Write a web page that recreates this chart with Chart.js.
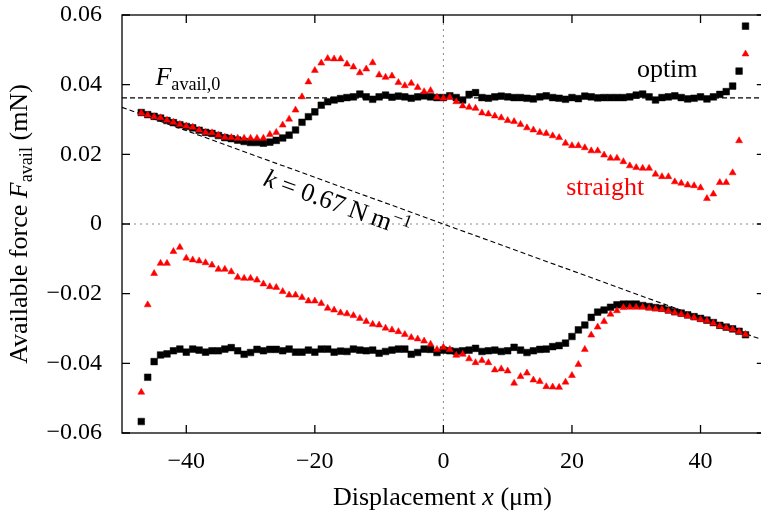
<!DOCTYPE html>
<html>
<head>
<meta charset="utf-8">
<script src="https://cdn.jsdelivr.net/npm/chart.js@4.4.1/dist/chart.umd.min.js"></script>
<style>
  html, body { margin: 0; padding: 0; background: #fff; overflow: hidden; }
  #wrap { width: 761px; height: 514px; overflow: hidden; }
</style>
</head>
<body>
<div id="wrap"><canvas id="forceChart" width="770" height="514"></canvas></div>
<script>
// Displacement positions (µm)
const X_POS = [
  -47, -46, -45, -44, -43, -42, -41, -40, -39, -38, -37, -36, -35, -34, -33, -32,
  -31, -30, -29, -28, -27, -26, -25, -24, -23, -22, -21, -20, -19, -18, -17, -16,
  -15, -14, -13, -12, -11, -10, -9, -8, -7, -6, -5, -4, -3, -2, -1, 0,
  1, 2, 3, 4, 5, 6, 7, 8, 9, 10, 11, 12, 13, 14, 15, 16,
  17, 18, 19, 20, 21, 22, 23, 24, 25, 26, 27, 28, 29, 30, 31, 32,
  33, 34, 35, 36, 37, 38, 39, 40, 41, 42, 43, 44, 45, 46, 47
];

// Available force (mN), optimised geometry, upper / lower branch
const OPTIM_UP = [
  0.0320, 0.0314, 0.0309, 0.0304, 0.0297, 0.0291, 0.0285, 0.0280, 0.0276, 0.0269, 0.0263, 0.0260, 0.0254, 0.0248, 0.0245, 0.0241,
  0.0237, 0.0234, 0.0234, 0.0232, 0.0235, 0.0240, 0.0247, 0.0255, 0.0270, 0.0292, 0.0308, 0.0322, 0.0341, 0.0351, 0.0356, 0.0360,
  0.0363, 0.0365, 0.0373, 0.0365, 0.0358, 0.0365, 0.0370, 0.0364, 0.0367, 0.0365, 0.0361, 0.0365, 0.0368, 0.0365, 0.0363, 0.0363,
  0.0368, 0.0363, 0.0356, 0.0372, 0.0377, 0.0363, 0.0361, 0.0365, 0.0367, 0.0365, 0.0363, 0.0363, 0.0361, 0.0359, 0.0365, 0.0368,
  0.0363, 0.0361, 0.0358, 0.0363, 0.0360, 0.0367, 0.0365, 0.0362, 0.0363, 0.0363, 0.0363, 0.0363, 0.0365, 0.0370, 0.0373, 0.0365,
  0.0356, 0.0363, 0.0365, 0.0368, 0.0363, 0.0359, 0.0361, 0.0365, 0.0359, 0.0365, 0.0372, 0.0380, 0.0396, 0.0439, 0.0568
];
const OPTIM_LOW = [
  -0.0567, -0.0440, -0.0395, -0.0376, -0.0373, -0.0364, -0.0359, -0.0368, -0.0359, -0.0362, -0.0368, -0.0364, -0.0364, -0.0359, -0.0355, -0.0364,
  -0.0374, -0.0369, -0.0360, -0.0364, -0.0360, -0.0360, -0.0364, -0.0359, -0.0368, -0.0368, -0.0362, -0.0368, -0.0359, -0.0359, -0.0368, -0.0365,
  -0.0366, -0.0359, -0.0362, -0.0364, -0.0362, -0.0371, -0.0366, -0.0362, -0.0359, -0.0359, -0.0374, -0.0369, -0.0359, -0.0360, -0.0369, -0.0362,
  -0.0364, -0.0366, -0.0364, -0.0362, -0.0357, -0.0366, -0.0364, -0.0362, -0.0366, -0.0364, -0.0354, -0.0362, -0.0369, -0.0364, -0.0360, -0.0359,
  -0.0352, -0.0349, -0.0342, -0.0323, -0.0304, -0.0290, -0.0268, -0.0253, -0.0247, -0.0239, -0.0232, -0.0230, -0.0230, -0.0230, -0.0234, -0.0237,
  -0.0240, -0.0242, -0.0247, -0.0252, -0.0256, -0.0261, -0.0266, -0.0271, -0.0276, -0.0283, -0.0291, -0.0296, -0.0301, -0.0308, -0.0318
];

// Available force (mN), straight geometry, upper / lower branch
const STRAIGHT_UP = [
  0.0319, 0.0313, 0.0308, 0.0305, 0.0298, 0.0292, 0.0286, 0.0281, 0.0278, 0.0270, 0.0263, 0.0262, 0.0255, 0.0249, 0.0248, 0.0246,
  0.0246, 0.0246, 0.0246, 0.0246, 0.0257, 0.0263, 0.0284, 0.0301, 0.0327, 0.0365, 0.0408, 0.0441, 0.0462, 0.0475, 0.0474, 0.0474,
  0.0459, 0.0451, 0.0434, 0.0445, 0.0463, 0.0428, 0.0421, 0.0425, 0.0406, 0.0397, 0.0404, 0.0392, 0.0380, 0.0383, 0.0364, 0.0361,
  0.0364, 0.0351, 0.0339, 0.0335, 0.0332, 0.0319, 0.0316, 0.0310, 0.0305, 0.0297, 0.0294, 0.0286, 0.0276, 0.0270, 0.0263, 0.0260,
  0.0253, 0.0248, 0.0232, 0.0225, 0.0225, 0.0219, 0.0210, 0.0210, 0.0198, 0.0189, 0.0189, 0.0179, 0.0167, 0.0162, 0.0160, 0.0160,
  0.0143, 0.0136, 0.0136, 0.0121, 0.0117, 0.0112, 0.0110, 0.0104, 0.0073, 0.0086, 0.0119, 0.0119, 0.0147, 0.0239, 0.0488
];
const STRAIGHT_LOW = [
  -0.0483, -0.0232, -0.0142, -0.0113, -0.0113, -0.0079, -0.0067, -0.0098, -0.0103, -0.0106, -0.0111, -0.0118, -0.0130, -0.0130, -0.0137, -0.0153,
  -0.0156, -0.0156, -0.0161, -0.0172, -0.0180, -0.0182, -0.0194, -0.0204, -0.0204, -0.0211, -0.0221, -0.0221, -0.0228, -0.0242, -0.0247, -0.0255,
  -0.0258, -0.0263, -0.0271, -0.0280, -0.0288, -0.0290, -0.0299, -0.0304, -0.0309, -0.0317, -0.0326, -0.0330, -0.0336, -0.0345, -0.0360, -0.0354,
  -0.0360, -0.0377, -0.0374, -0.0387, -0.0398, -0.0392, -0.0398, -0.0419, -0.0416, -0.0422, -0.0457, -0.0438, -0.0428, -0.0448, -0.0452, -0.0467,
  -0.0468, -0.0469, -0.0454, -0.0435, -0.0403, -0.0360, -0.0319, -0.0296, -0.0280, -0.0259, -0.0249, -0.0240, -0.0239, -0.0239, -0.0239, -0.0242,
  -0.0244, -0.0245, -0.0250, -0.0255, -0.0259, -0.0264, -0.0269, -0.0274, -0.0278, -0.0285, -0.0293, -0.0298, -0.0302, -0.0309, -0.0317
];

// Axis ticks
const X_TICKS = [-40, -20, 0, 20, 40];
const Y_TICKS = [-0.06, -0.04, -0.02, 0, 0.02, 0.04, 0.06];

// Reference values
const F_AVAIL0 = 0.0362;   // mN
const K_STIFF = 0.00067;   // mN per µm  (0.67 N/m)

const X_MIN = -50, X_MAX = 50, Y_MIN = -0.06, Y_MAX = 0.06;
const SERIF = '"Liberation Serif", "Times New Roman", serif';
const TICK_LEN = 8;

function toPoints(xs, ys) {
  return xs.map((x, i) => ({ x: x, y: ys[i] }));
}

function minusSign(s) {
  return s.replace('-', '\u2212');
}

// Text with italic / subscript / superscript runs
function drawRich(ctx, parts, size, x, y, align) {
  const pieces = parts.map(([text, style]) => {
    const small = style === 'sub' || style === 'sup';
    const f = (style === 'i' ? 'italic ' : '') + (small ? size * 0.7 : size) + 'px ' + SERIF;
    ctx.font = f;
    const dy = style === 'sub' ? size * 0.2 : (style === 'sup' ? -size * 0.38 : 0);
    return { text, f, dy, w: ctx.measureText(text).width };
  });
  const total = pieces.reduce((s, p) => s + p.w, 0);
  let cx = align === 'center' ? x - total / 2 : x;
  ctx.textAlign = 'left';
  ctx.textBaseline = 'alphabetic';
  pieces.forEach(p => {
    ctx.font = p.f;
    ctx.fillText(p.text, cx, y + p.dy);
    cx += p.w;
  });
}

// In-plot labels, anchored in data coordinates
const LABELS = [
  { x: -44.8, y: 0.0399, color: '#000', parts: [['F', 'i'], ['avail,0', 'sub']] },
  { x: 30.1, y: 0.0422, color: '#000', parts: [['optim', '']] },
  { x: 19.1, y: 0.0083, color: '#ff0000', parts: [['straight', '']] },
  { x: -28.2, y: 0.0112, color: '#000', alongK: true,
    parts: [['k', 'i'], [' = 0.67\u2009N\u2009m', ''], ['\u22121', 'sup']] }
];

const framePlugin = {
  id: 'frame',
  afterDatasetsDraw(chart) {
    const { ctx, chartArea: a, scales } = chart;
    const xs = scales.x, ys = scales.y;
    ctx.save();
    ctx.strokeStyle = '#000';
    ctx.lineWidth = 1.3;
    ctx.strokeRect(a.left, a.top, a.right - a.left, a.bottom - a.top);
    ctx.beginPath();
    X_TICKS.forEach(v => {
      const px = xs.getPixelForValue(v);
      ctx.moveTo(px, a.bottom); ctx.lineTo(px, a.bottom - TICK_LEN);
      ctx.moveTo(px, a.top); ctx.lineTo(px, a.top + TICK_LEN);
    });
    Y_TICKS.forEach(v => {
      const py = ys.getPixelForValue(v);
      ctx.moveTo(a.left, py); ctx.lineTo(a.left + TICK_LEN, py);
      ctx.moveTo(a.right, py); ctx.lineTo(a.right - TICK_LEN, py);
    });
    ctx.stroke();
    ctx.restore();
  },
  afterDraw(chart) {
    const { ctx, chartArea: a, scales } = chart;
    const xs = scales.x, ys = scales.y;
    ctx.save();
    ctx.fillStyle = '#000';

    // axis titles
    drawRich(ctx, [['Displacement ', ''], ['x', 'i'], [' (\u03bcm)', '']], 26,
      (a.left + a.right) / 2 - 1, 505, 'center');
    ctx.save();
    ctx.translate(27, (a.top + a.bottom) / 2);
    ctx.rotate(-Math.PI / 2);
    drawRich(ctx, [['Available force ', ''], ['F', 'i'], ['avail', 'sub'], [' (mN)', '']], 26, 0, 0, 'center');
    ctx.restore();

    // slope of the stiffness line in pixels
    const kx1 = xs.getPixelForValue(X_MIN), ky1 = ys.getPixelForValue(-K_STIFF * X_MIN);
    const kx2 = xs.getPixelForValue(X_MAX), ky2 = ys.getPixelForValue(-K_STIFF * X_MAX);
    const kAngle = Math.atan2(ky2 - ky1, kx2 - kx1);

    LABELS.forEach(l => {
      ctx.save();
      ctx.fillStyle = l.color;
      ctx.translate(xs.getPixelForValue(l.x), ys.getPixelForValue(l.y));
      if (l.alongK) ctx.rotate(kAngle);
      drawRich(ctx, l.parts, 26, 0, 0, 'left');
      ctx.restore();
    });
    ctx.restore();
  }
};

const tickFont = { family: SERIF, size: 24 };

new Chart(document.getElementById('forceChart'), {
  type: 'scatter',
  data: {
    datasets: [
      {
        label: 'straight',
        data: toPoints(X_POS, STRAIGHT_UP).concat(toPoints(X_POS, STRAIGHT_LOW)),
        pointStyle: 'triangle',
        pointRadius: 4,
        backgroundColor: '#ff0000',
        borderColor: '#ff0000',
        borderWidth: 0.5,
        order: 1
      },
      {
        label: 'optim',
        data: toPoints(X_POS, OPTIM_UP).concat(toPoints(X_POS, OPTIM_LOW)),
        pointStyle: 'rect',
        pointRadius: 4.7,
        backgroundColor: '#000',
        borderColor: '#000',
        borderWidth: 0.5,
        order: 2
      },
      {
        label: 'F_avail,0',
        data: [{ x: X_MIN, y: F_AVAIL0 }, { x: X_MAX, y: F_AVAIL0 }],
        showLine: true,
        borderColor: '#000',
        borderWidth: 1.1,
        borderDash: [5, 3],
        pointRadius: 0,
        order: 10
      },
      {
        label: 'k',
        data: [{ x: X_MIN, y: -K_STIFF * X_MIN }, { x: X_MAX, y: -K_STIFF * X_MAX }],
        showLine: true,
        borderColor: '#000',
        borderWidth: 1.1,
        borderDash: [5, 3],
        pointRadius: 0,
        order: 10
      },
      {
        label: 'x=0',
        data: [{ x: 0, y: Y_MIN }, { x: 0, y: Y_MAX }],
        showLine: true,
        borderColor: '#8a8a8a',
        borderWidth: 1,
        borderDash: [2, 4],
        pointRadius: 0,
        order: 20
      },
      {
        label: 'y=0',
        data: [{ x: X_MIN, y: 0 }, { x: X_MAX, y: 0 }],
        showLine: true,
        borderColor: '#8a8a8a',
        borderWidth: 1,
        borderDash: [2, 4],
        pointRadius: 0,
        order: 20
      }
    ]
  },
  options: {
    responsive: false,
    animation: false,
    events: [],
    layout: { padding: { left: 0, top: 15, right: 4, bottom: 0 } },
    plugins: {
      legend: { display: false },
      tooltip: { enabled: false }
    },
    scales: {
      x: {
        type: 'linear',
        min: X_MIN,
        max: X_MAX,
        grid: { display: false, drawTicks: false },
        border: { display: false },
        ticks: {
          font: tickFont,
          color: '#000',
          padding: 14,
          maxRotation: 0,
          callback: v => minusSign(String(v))
        },
        afterBuildTicks: s => { s.ticks = X_TICKS.map(v => ({ value: v })); },
        afterFit: s => { s.height = 81; s.paddingLeft = 0; s.paddingRight = 0; }
      },
      y: {
        type: 'linear',
        min: Y_MIN,
        max: Y_MAX,
        grid: { display: false, drawTicks: false },
        border: { display: false },
        ticks: {
          font: tickFont,
          color: '#000',
          padding: 20,
          callback: v => v === 0 ? '0' : minusSign(v.toFixed(2))
        },
        afterBuildTicks: s => { s.ticks = Y_TICKS.map(v => ({ value: v })); },
        afterFit: s => { s.width = 122; s.paddingTop = 0; s.paddingBottom = 0; }
      }
    }
  },
  plugins: [framePlugin]
});
</script>
</body>
</html>
